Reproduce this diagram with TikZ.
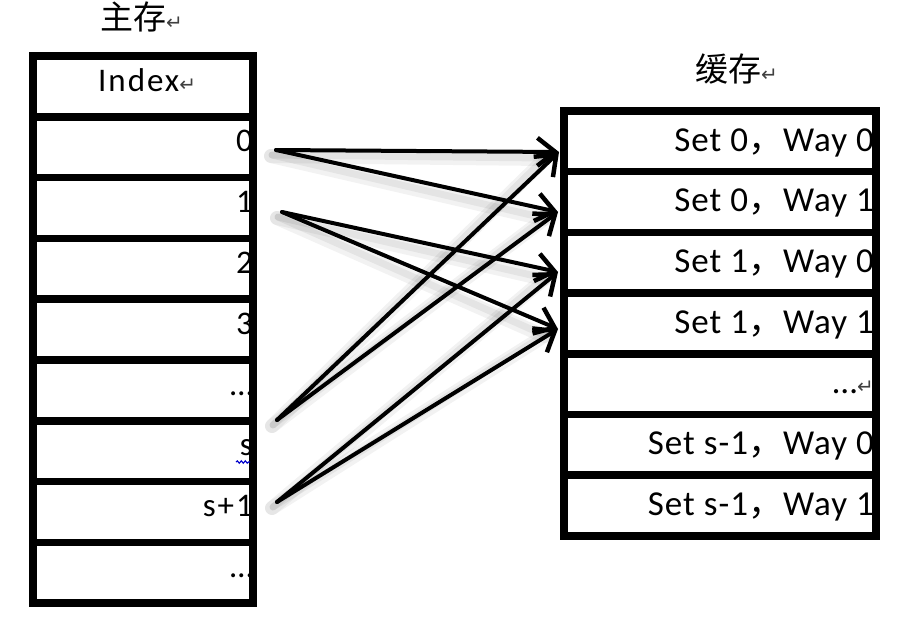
\documentclass[tikz,border=0pt]{standalone}
\usepackage{fontspec}
\setmainfont{Carlito}
\newfontfamily\lfont{Carlito}[LetterSpace=6]
\newfontfamily\rfont{Carlito}[LetterSpace=3]
\newfontfamily\cjkfont{Noto Sans CJK SC}
\newfontfamily\symfont{DejaVu Sans}
\usetikzlibrary{arrows.meta,decorations.pathmorphing}
\newcommand{\pmark}{{\symfont\fontsize{20}{20}\selectfont\textcolor{black!75}{↵}}}
\newcommand{\cc}{{\cjkfont ，}}
\tikzset{
  cellL/.style={draw, line width=7.5pt, minimum width=220pt, minimum height=60.8pt, inner sep=0pt, outer sep=0pt},
  cellR/.style={draw, line width=7.5pt, minimum width=312pt, minimum height=60.7pt, inner sep=0pt, outer sep=0pt},
  ltext/.style={inner sep=0pt, font=\lfont\fontsize{33}{36}\selectfont},
  rtext/.style={inner sep=0pt, font=\rfont\fontsize{35}{38}\selectfont},
  title/.style={inner sep=0pt, font=\cjkfont\fontsize{33}{35}\selectfont},
  arr/.style={line width=4pt, line cap=round, -{Straight Barb[length=18pt,width=28pt,line width=4.5pt]}},
  shad/.style={line width=14pt, line cap=round, black, opacity=0.05},
  shad2/.style={line width=7pt, line cap=round, black, opacity=0.06}
}
\begin{document}
\begin{tikzpicture}[x=1pt,y=-1pt]
\useasboundingbox (0,0) rectangle (915,625);
% endpoints
\coordinate (s0) at (276,150);
\coordinate (s1) at (282,212);
\coordinate (s2) at (277,420);
\coordinate (s3) at (277,502);
\coordinate (e0) at (559,152);
\coordinate (e1) at (558,212);
\coordinate (e2) at (558,272);
\coordinate (e3) at (558,329);
% shadows
\foreach \a/\b in {s0/e0,s0/e1,s1/e2,s1/e3,s2/e0,s2/e1,s3/e2,s3/e3}{
  \draw[shad] ([shift={(-5,6)}]\a) -- ([shift={(-14,7)}]\b);
  \draw[shad2] ([shift={(-4,5)}]\a) -- ([shift={(-14,6)}]\b);
}
% arrows
\foreach \a/\b in {s0/e0,s0/e1,s1/e2,s1/e3,s2/e0,s2/e1,s3/e2,s3/e3}{
  \draw[arr] (\a) -- (\b);
}
% left table
\foreach \i in {0,...,8}{
  \node[cellL] (L\i) at (143,{56+60.8*(\i+0.5)}) {};
}
% right table
\foreach \i in {0,...,6}{
  \node[cellR] (R\i) at (720,{111+60.7*(\i+0.5)}) {};
}
% titles
\node[title, anchor=base west] (tMain) at (100,29) {主存\pmark};
\node[title, anchor=base west] (tCache) at (695,81) {缓存\pmark};
% left texts
\node[ltext, anchor=base west] (idx) at (98,91) {Index\pmark};
\node[ltext, anchor=base east] (n0) at (253,151.8) {0};
\node[ltext, anchor=base east] (n1) at (253,212.6) {1};
\node[ltext, anchor=base east] (n2) at (253,273.4) {2};
\node[ltext, anchor=base east] (n3) at (253,334.2) {3};
\node[ltext, anchor=base east] (n4) at (253,395) {…};
\node[ltext, anchor=base east] (n5) at (253,455.8) {s};
\node[ltext, anchor=base east] (n6) at (253,516.6) {s+1};
\node[ltext, anchor=base east] (n7) at (253,577.4) {…};
\draw[blue!80!black, line width=1.1pt, decorate, decoration={snake, amplitude=1.2pt, segment length=4pt}] (236,462) -- (250,462);
% right texts
\node[rtext, anchor=base east] (r0) at (874,151) {Set 0\cc Way 0};
\node[rtext, anchor=base east] (r1) at (874,211.7) {Set 0\cc Way 1};
\node[rtext, anchor=base east] (r2) at (874,272.4) {Set 1\cc Way 0};
\node[rtext, anchor=base east] (r3) at (874,333.1) {Set 1\cc Way 1};
\node[rtext, anchor=base east] (r4) at (874,393.8) {…\pmark};
\node[rtext, anchor=base east] (r5) at (874,454.5) {Set s-1\cc Way 0};
\node[rtext, anchor=base east] (r6) at (874,515.2) {Set s-1\cc Way 1};
\end{tikzpicture}
\end{document}
